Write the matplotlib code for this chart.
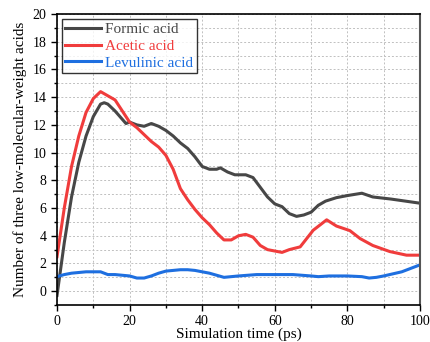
import matplotlib
matplotlib.use("Agg")
import matplotlib.pyplot as plt
from matplotlib.ticker import MultipleLocator

plt.rcParams['font.family'] = ['Liberation Serif', 'DejaVu Serif']

formic_x = [0, 2, 4, 6, 8, 10, 12, 13, 14, 16, 18, 19, 20, 22, 24, 26, 28, 30, 32, 34, 36, 38, 40, 42, 44, 45, 47, 49, 52, 54, 56, 58, 60, 62, 64, 66, 68, 70, 72, 74, 77, 80, 84, 87, 92, 96, 100]
formic_y = [-0.3, 3.5, 6.8, 9.3, 11.2, 12.6, 13.5, 13.6, 13.5, 13.0, 12.4, 12.1, 12.2, 12.0, 11.9, 12.1, 11.9, 11.6, 11.2, 10.7, 10.3, 9.7, 9.0, 8.8, 8.8, 8.9, 8.6, 8.4, 8.4, 8.2, 7.5, 6.8, 6.3, 6.1, 5.6, 5.4, 5.5, 5.7, 6.2, 6.5, 6.75, 6.9, 7.07, 6.8, 6.65, 6.5, 6.35]

acetic_x = [0, 2, 4, 6, 8, 10, 12, 14, 16, 18, 20, 22, 24, 26, 28, 30, 32, 34, 36, 38, 40, 42, 44, 46, 48, 50, 52, 54, 56, 58, 60, 62, 64, 67, 70.6, 74.3, 77, 80.7, 83.5, 87, 91.7, 96.3, 100]
acetic_y = [2.5, 6.0, 9.0, 11.2, 12.9, 13.9, 14.4, 14.1, 13.8, 13.0, 12.2, 11.8, 11.3, 10.8, 10.4, 9.8, 8.8, 7.4, 6.6, 5.9, 5.3, 4.8, 4.2, 3.7, 3.7, 4.0, 4.1, 3.9, 3.3, 3.0, 2.9, 2.8, 3.0, 3.2, 4.4, 5.15, 4.7, 4.37, 3.8, 3.3, 2.86, 2.6, 2.6]

levulinic_x = [0, 2, 4, 6, 8, 10, 12, 14, 16, 18, 20, 22, 24, 26, 28, 30, 32, 34, 36, 38, 40, 42, 44, 46, 48, 50, 55, 60, 65, 70, 72, 75, 80, 84, 86, 88, 90, 95, 100]
levulinic_y = [1.05, 1.2, 1.3, 1.35, 1.4, 1.4, 1.4, 1.2, 1.2, 1.15, 1.1, 0.95, 0.95, 1.1, 1.3, 1.45, 1.5, 1.55, 1.55, 1.5, 1.4, 1.3, 1.15, 1.0, 1.05, 1.1, 1.2, 1.2, 1.2, 1.1, 1.05, 1.1, 1.1, 1.05, 0.95, 1.0, 1.1, 1.4, 1.9]

labels = ['Formic acid', 'Acetic acid', 'Levulinic acid']
colors = ['#474747', '#f03c3c', '#1e6fe0']

fig = plt.figure(figsize=(4.3, 3.42), dpi=100)
ax = fig.add_axes([0.1326, 0.108, 0.844, 0.851])

series = [(formic_x, formic_y), (acetic_x, acetic_y), (levulinic_x, levulinic_y)]
for (xs, ys), lab, c in zip(series, labels, colors):
    ax.plot(xs, ys, color=c, lw=2.2, label=lab)

ax.set_xlim(0, 100)
ax.set_ylim(-1, 20)
ax.xaxis.set_major_locator(MultipleLocator(20))
ax.xaxis.set_minor_locator(MultipleLocator(10))
ax.yaxis.set_major_locator(MultipleLocator(2))
ax.yaxis.set_minor_locator(MultipleLocator(1))
ax.grid(True, which='both', color='#c0c0c0', linestyle=(0, (2, 2)), lw=0.7)
ax.set_axisbelow(True)
ax.tick_params(which='both', direction='out', labelsize=10, width=1)
ax.tick_params(which='major', length=4)
ax.tick_params(which='minor', length=2.5)
ax.tick_params(top=False, right=False)
for s in ['left', 'bottom', 'top']:
    ax.spines[s].set_linewidth(1.2)
    ax.spines[s].set_color('black')
ax.spines['right'].set_linewidth(1.5)
ax.spines['right'].set_color('#555555')

ax.set_xlabel('Simulation time (ps)', fontsize=11, labelpad=-1)
ax.set_ylabel('Number of three low-molecular-weight acids', fontsize=11, labelpad=4)

leg = ax.legend(loc='upper left', fontsize=11, frameon=True, fancybox=False,
                edgecolor='black', handlelength=2.3, borderaxespad=0.3,
                handletextpad=0.3, labelspacing=0.2, borderpad=0.25)
leg.get_frame().set_linewidth(1.0)
for t, c in zip(leg.get_texts(), colors):
    t.set_color(c)

fig.savefig('out.png', dpi=100)
